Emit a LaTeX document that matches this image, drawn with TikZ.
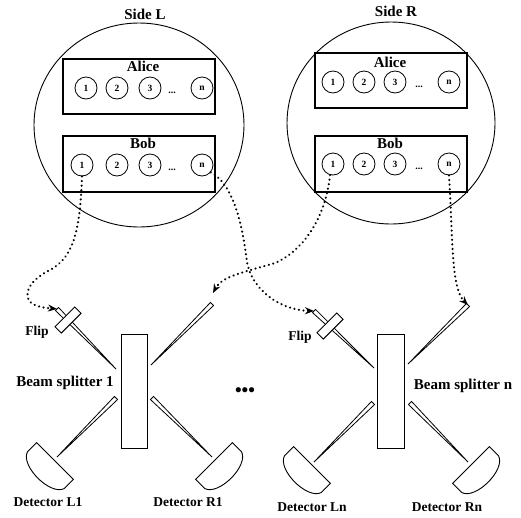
\documentclass[tikz,border=0pt]{standalone}
\usepackage{fontspec}
\setmainfont{Liberation Serif}
\usetikzlibrary{calc,arrows.meta}

% haz cónico: extremo ancho, punta
\newcommand{\haz}[2]{\draw[line width=0.8pt] ($(#1)!2.2pt!90:(#2)$) -- (#2) -- ($(#1)!2.2pt!-90:(#2)$) -- cycle;}
% detector: centro del lado plano, giro
\newcommand{\detector}[2]{\draw[line width=0.9pt, shift={(#1)}, rotate=#2] (-26,0) -- (26,0) -- (26,13) .. controls (21,28) and (-21,28) .. (-26,13) -- cycle;}

\tikzset{
  bola/.style={circle, draw, line width=0.8pt, minimum size=22pt, inner sep=0pt, font=\fontsize{9.5}{9.5}\selectfont\bfseries},
  caja/.style={draw, line width=1.2pt, minimum width=152pt, inner sep=0pt},
  titulo/.style={font=\fontsize{15}{15}\selectfont\bfseries},
  etiq/.style={font=\fontsize{13.5}{13.5}\selectfont\bfseries},
  puntos/.style={font=\fontsize{10}{10}\selectfont\bfseries, inner sep=0pt},
  divisor/.style={draw, line width=0.9pt, minimum width=26pt, minimum height=114pt, inner sep=0pt},
  flipbox/.style={draw, fill=white, line width=0.9pt, minimum width=28pt, minimum height=9pt, inner sep=0pt},
  flecha/.style={line width=2.3pt, dash pattern=on 0.1pt off 4.5pt, line cap=round, -{Stealth[length=9pt,width=7pt]}}
}

\begin{document}
\begin{tikzpicture}[x=1pt,y=-1pt]
    \useasboundingbox (0,0) rectangle (521,517);

    % lado L
    \draw[line width=0.9pt] (139,125) ellipse [x radius=105pt, y radius=102pt];
    \node[titulo] (sidel) at (145,14) {Side L};
    \node[caja, minimum height=55pt] (alicel) at (139,86.5) {};
    \node[titulo] (talicel) at (143,66) {Alice};
    \node[bola] (la1) at (86,88) {1};
    \node[bola] (la2) at (117,88) {2};
    \node[bola] (la3) at (150,88) {3};
    \node[puntos] (lad) at (172,93) {...};
    \node[bola] (lan) at (202,88) {n};

    \node[caja, minimum height=56pt] (bobl) at (139,164) {};
    \node[titulo] (tbobl) at (143,143) {Bob};
    \node[bola] (lb1) at (82,165) {1};
    \node[bola] (lb2) at (117,165) {2};
    \node[bola] (lb3) at (150,165) {3};
    \node[puntos] (lbd) at (172,170) {...};
    \node[bola] (lbn) at (202,165) {n};

    % lado R
    \draw[line width=0.9pt] (391,123) ellipse [x radius=104pt, y radius=101pt];
    \node[titulo] (sider) at (396,11) {Side R};
    \node[caja, minimum height=55pt] (alicer) at (391,80.5) {};
    \node[titulo] (talicer) at (390,62) {Alice};
    \node[bola] (ra1) at (333,82) {1};
    \node[bola] (ra2) at (364,82) {2};
    \node[bola] (ra3) at (395,82) {3};
    \node[puntos] (rad) at (419,87) {...};
    \node[bola] (ran) at (449,82) {n};

    \node[caja, minimum height=56pt] (bobr) at (391,164) {};
    \node[titulo] (tbobr) at (390,143) {Bob};
    \node[bola] (rb1) at (333,164) {1};
    \node[bola] (rb2) at (364,164) {2};
    \node[bola] (rb3) at (395,164) {3};
    \node[puntos] (rbd) at (419,169) {...};
    \node[bola] (rbn) at (449,164) {n};

    % divisor 1
    \node[divisor] (bs1) at (134,391) {};
    \coordinate (e1a) at (57,309);  \coordinate (p1a) at (116,369);
    \coordinate (e1b) at (212,304); \coordinate (p1b) at (151,365);
    \coordinate (e1c) at (116,398); \coordinate (p1c) at (57,457);
    \coordinate (e1d) at (152,398); \coordinate (p1d) at (212,457);
    \haz{e1a}{p1a}
    \haz{e1b}{p1b}
    \haz{e1c}{p1c}
    \haz{e1d}{p1d}
    \node[flipbox, rotate=45] (flip1) at (68,320) {};
    \detector{55,461}{-45}
    \detector{214,461}{45}

    % divisor n
    \node[divisor, minimum width=27pt] (bsn) at (390.5,391) {};
    \coordinate (ena) at (314,311); \coordinate (pna) at (374,368);
    \coordinate (enb) at (468,305); \coordinate (pnb) at (408,364);
    \coordinate (enc) at (373,403); \coordinate (pnc) at (314,462);
    \coordinate (end) at (410,403); \coordinate (pnd) at (468,462);
    \haz{ena}{pna}
    \haz{enb}{pnb}
    \haz{enc}{pnc}
    \haz{end}{pnd}
    \node[flipbox, rotate=45] (flipn) at (330,326) {};
    \detector{312,465}{-45}
    \detector{471,465}{45}

    % etiquetas
    \node[etiq] (tflip1) at (37,332) {Flip};
    \node[etiq] (tflipn) at (300,337) {Flip};
    \node[titulo] (tbs1) at (65,383) {Beam splitter 1};
    \node[titulo] (tbsn) at (463,386) {Beam splitter n};
    \node[font=\fontsize{19}{19}\selectfont\bfseries] (tdots) at (245,392) {•••};
    \node[etiq] (tdl1) at (48,502) {Detector L1};
    \node[etiq] (tdr1) at (188,502) {Detector R1};
    \node[etiq] (tdln) at (312,507) {Detector Ln};
    \node[etiq] (tdrn) at (447,507) {Detector Rn};

    % caminos
    \coordinate (ar1) at (213,293);
    \draw[flecha] (lb1.south) .. controls (80,235) and (72,258) .. (50,270) .. controls (25,282) and (22,300) .. (35,305) .. controls (42,308) and (48,308) .. (e1a);
    \draw[flecha] (lbn.-40) .. controls (235,185) and (243,230) .. (247,262) .. controls (252,290) and (280,310) .. (ena);
    \draw[flecha] (rb1.-105) .. controls (326,215) and (305,250) .. (275,263) .. controls (245,272) and (222,276) .. (ar1);
    \draw[flecha] (rbn.south) .. controls (453,240) and (451,288) .. (enb);

\end{tikzpicture}
\end{document}
